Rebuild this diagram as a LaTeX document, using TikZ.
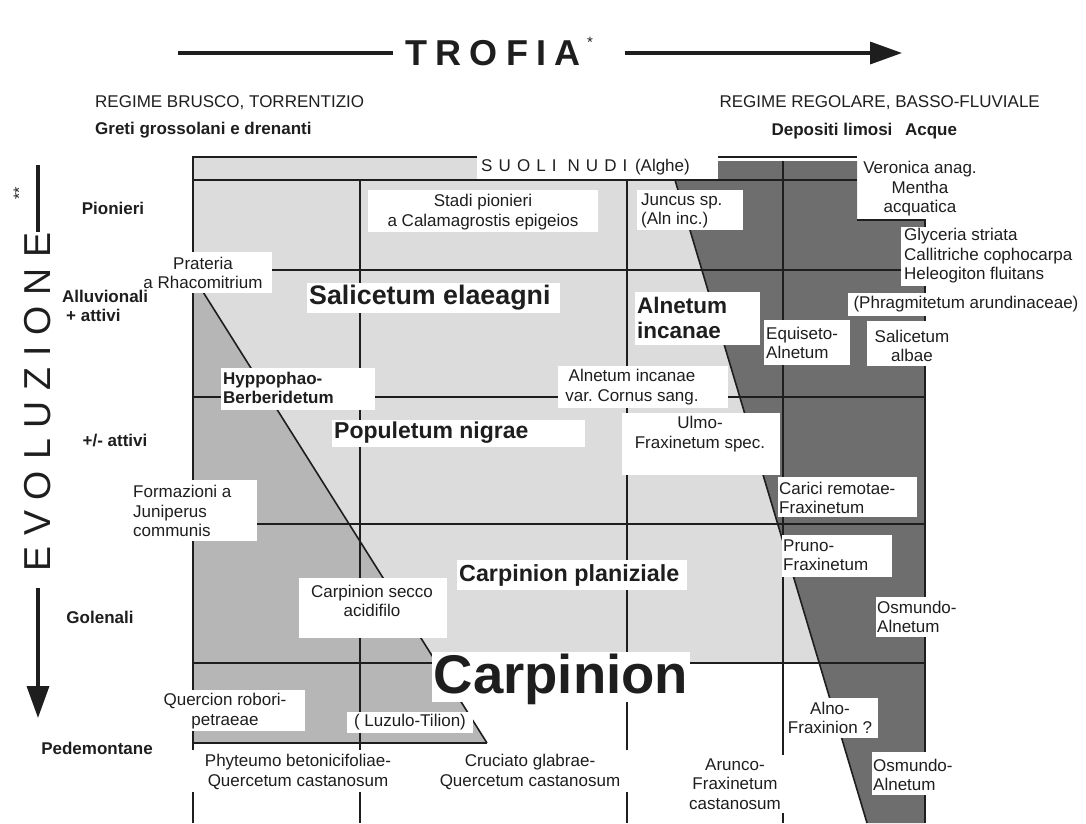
\documentclass[tikz,border=0pt]{standalone}
\usepackage{fontspec}
\setmainfont{Liberation Sans}
\newfontfamily\trofont[LetterSpace=23]{Liberation Sans}
\newfontfamily\evofont[LetterSpace=29]{Liberation Sans}
\newfontfamily\suolifont[LetterSpace=36]{Liberation Sans}
\usetikzlibrary{arrows.meta}
\definecolor{ink}{HTML}{1E1E1E}
\definecolor{lightg}{HTML}{DCDCDC}
\definecolor{midg}{HTML}{B6B6B6}
\definecolor{darkg}{HTML}{6E6E6E}
\tikzset{
  gridline/.style={line width=2pt, draw=ink},
  diag/.style={line width=1.6pt, draw=ink},
  arrowline/.style={line width=3.5pt, draw=ink},
  txt/.style={font=\fontsize{17}{19.5}\selectfont, text=ink, inner sep=0pt, align=center},
  txtL/.style={txt, align=left},
  btxt/.style={font=\bfseries\fontsize{17}{19.5}\selectfont, text=ink, inner sep=0pt, align=left},
  bigb/.style={font=\bfseries\fontsize{22.5}{25}\selectfont, text=ink, inner sep=0pt, align=left},
  plate/.style={fill=white},
}
\begin{document}
\frenchspacing
\begin{tikzpicture}[x=1pt,y=-1pt]
\useasboundingbox (0,0) rectangle (1086,823);
% ---------- fills
\fill[lightg] (193,157) -- (718,157) -- (718,180) -- (675,180) -- (819,663) -- (193,663) -- cycle;
\fill[darkg] (675,180) -- (718,180) -- (718,161) -- (857,161) -- (857,220) -- (925,220) -- (925,823) -- (867,823) -- cycle;
\fill[midg] (193,276) -- (487,743) -- (193,743) -- cycle;
% ---------- grid
\draw[gridline] (193,157) -- (857,157);
\draw[gridline] (193,180) -- (857,180);
\draw[gridline] (193,270) -- (925,270);
\draw[gridline] (193,397) -- (925,397);
\draw[gridline] (193,524) -- (925,524);
\draw[gridline] (193,663) -- (925,663);
\draw[gridline] (193,743) -- (487,743);
\draw[gridline] (193,156) -- (193,823);
\draw[gridline] (360,180) -- (360,823);
\draw[gridline] (627,180) -- (627,823);
\draw[gridline] (783,161) -- (783,823);
\draw[gridline] (857,220) -- (925,220) -- (925,823);
\draw[diag] (675,180) -- (867,823);
\draw[diag] (193,276) -- (487,743);
% ---------- white plates
\fill[plate] (477,148) rectangle (718,178.5);
\fill[plate] (368,190) rectangle (598,232);
\fill[plate] (637,190) rectangle (743,230);
\fill[plate] (860,158) rectangle (990,218);
\fill[plate] (901,227) rectangle (1072,286);
\fill[plate] (848,293) rectangle (1086,316);
\fill[plate] (764,320) rectangle (850,365);
\fill[plate] (867,321) rectangle (958,366);
\fill[plate] (130,252) rectangle (272,293);
\fill[plate] (221,368) rectangle (375,410);
\fill[plate] (307,283) rectangle (560,313);
\fill[plate] (635,292) rectangle (760,345);
\fill[plate] (558,366) rectangle (728,408);
\fill[plate] (332,420) rectangle (585,447);
\fill[plate] (622,413) rectangle (780,475);
\fill[plate] (127,480) rectangle (257,541);
\fill[plate] (778,477) rectangle (917,517);
\fill[plate] (782,535) rectangle (892,577);
\fill[plate] (457,560) rectangle (687,590);
\fill[plate] (299,578) rectangle (447,638);
\fill[plate] (876,597) rectangle (960,637);
\fill[plate] (432,652) rectangle (690,702);
\fill[plate] (160,690) rectangle (305,731);
\fill[plate] (347,712) rectangle (473,733);
\fill[plate] (190,750) rectangle (400,792);
\fill[plate] (440,750) rectangle (635,792);
\fill[plate] (785,698) rectangle (878,738);
\fill[plate] (686,755) rectangle (786,813);
\fill[plate] (872,752) rectangle (955,795);
% ---------- title and axis
\node[font=\trofont\bfseries\fontsize{36}{36}\selectfont, text=ink, inner sep=0pt] (trofia) at (493,53) {TROFIA};
\node[font=\fontsize{15}{15}\selectfont, text=ink, inner sep=0pt] (trofiastar) at (590,42) {*};
\coordinate (tL1) at (178,53); \coordinate (tL2) at (393,53);
\coordinate (tR1) at (625,53); \coordinate (tR2) at (902,53);
\draw[arrowline] (tL1) -- (tL2);
\draw[arrowline, -{Triangle[length=32pt,width=22pt]}] (tR1) -- (tR2);
\node[rotate=90, font=\evofont\fontsize{37.5}{37.5}\selectfont, text=ink, inner sep=0pt] (evo) at (38,402) {EVOLUZIONE};
\node[rotate=90, font=\fontsize{16}{16}\selectfont, text=ink, inner sep=0pt] (evostars) at (19,193) {**};
\coordinate (eT1) at (38,165); \coordinate (eT2) at (38,232);
\coordinate (eB1) at (38,588); \coordinate (eB2) at (38,718);
\draw[arrowline] (eT1) -- (eT2);
\draw[arrowline, -{Triangle[length=32pt,width=22pt]}] (eB1) -- (eB2);
% ---------- headers
\node[txt, anchor=west] (regL) at (95,103) {REGIME BRUSCO, TORRENTIZIO};
\node[btxt, anchor=west] (greti) at (95,130) {Greti grossolani e drenanti};
\node[txt, anchor=east] (regR) at (1040,103) {REGIME REGOLARE, BASSO-FLUVIALE};
\node[btxt] (depos) at (832,131) {Depositi limosi};
\node[btxt] (acque) at (931,131) {Acque};
% ---------- side labels
\node[btxt] (pion) at (113,208) {Pionieri};
\node[btxt, anchor=west] (alluv) at (62,306) {Alluvionali\\\hspace*{4pt}+ attivi};
\node[btxt] (attivi) at (115,440) {+/- attivi};
\node[btxt] (golen) at (100,617) {Golenali};
\node[btxt] (pedem) at (97,748) {Pedemontane};
% ---------- grid labels
\node[txt, anchor=west] (suoli) at (481,167) {{\suolifont SUOLI NUDI}\ \,(Alghe)};
\node[txt] (stadi) at (483,212) {Stadi pionieri\\a Calamagrostis epigeios};
\node[txtL, anchor=west] (juncus) at (641,211) {Juncus sp.\\(Aln inc.)};
\node[txt] (veron) at (920,189) {Veronica anag.\\Mentha\\acquatica};
\node[txtL, anchor=west] (glyc) at (904,256) {Glyceria striata\\Callitriche cophocarpa\\Heleogiton fluitans};
\node[txt] (phrag) at (966,304) {(Phragmitetum arundinaceae)};
\node[txtL, anchor=west] (equis) at (766,343) {Equiseto-\\Alnetum};
\node[txt] (salalb) at (912,346) {Salicetum\\albae};
\node[txt] (prat) at (203,273) {Prateria\\a Rhacomitrium};
\node[btxt, anchor=west] (hyppo) at (223,388) {Hyppophao-\\Berberidetum};
\node[font=\bfseries\fontsize{26.8}{28}\selectfont, text=ink, inner sep=0pt, anchor=west] (salel) at (309,298) {Salicetum elaeagni};
\node[bigb, anchor=west] (alninc) at (637,318) {Alnetum\\incanae};
\node[txt] (alnvar) at (632,387) {Alnetum incanae\\var. Cornus sang.};
\node[bigb, font=\bfseries\fontsize{23}{25}\selectfont, anchor=west] (popul) at (334,433) {Populetum nigrae};
\node[txt] (ulmo) at (700,434) {Ulmo-\\Fraxinetum spec.};
\node[txtL, anchor=west] (form) at (133,511) {Formazioni a\\Juniperus\\communis};
\node[txtL, anchor=west] (carici) at (779,498) {Carici remotae-\\Fraxinetum};
\node[txtL, anchor=west] (pruno) at (783,555) {Pruno-\\Fraxinetum};
\node[bigb, font=\bfseries\fontsize{23.3}{25}\selectfont, anchor=west] (carpplan) at (459,575) {Carpinion planiziale};
\node[txt] (carpsec) at (372,601) {Carpinion secco\\acidifilo};
\node[txtL, anchor=west] (osm1) at (877,617) {Osmundo-\\Alnetum};
\node[font=\bfseries\fontsize{54.5}{54.5}\selectfont, text=ink, inner sep=0pt] (carp) at (561,679) {Carpinion};
\node[txt] (quer) at (225,711) {Quercion robori-\\petraeae};
\node[txt] (luzulo) at (410,722) {( Luzulo-Tilion)};
\node[txt] (phyt) at (298,772) {Phyteumo betonicifoliae-\\Quercetum castanosum};
\node[txt] (cruc) at (530,772) {Cruciato glabrae-\\Quercetum castanosum};
\node[txt] (alno) at (830,718) {Alno-\\Fraxinion ?};
\node[txt] (arunco) at (735,784) {Arunco-\\Fraxinetum\\castanosum};
\node[txtL, anchor=west] (osm2) at (873,775) {Osmundo-\\Alnetum};
\end{tikzpicture}
\end{document}
